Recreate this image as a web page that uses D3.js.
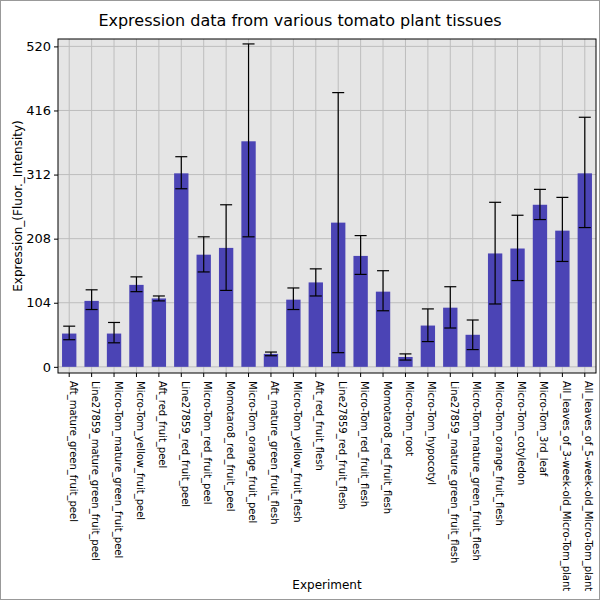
<!DOCTYPE html><html><head><script src="https://d3js.org/d3.v7.min.js"></script>
<style>body{margin:0;background:#fff}text{font-family:"DejaVu Sans",sans-serif}</style></head><body><script>
const categories=["Aft_mature_green_fruit_peel","Line27859_mature_green_fruit_peel","Micro-Tom_mature_green_fruit_peel","Micro-Tom_yellow_fruit_peel","Aft_red_fruit_peel","Line27859_red_fruit_peel","Micro-Tom_red_fruit_peel","Momotaro8_red_fruit_peel","Micro-Tom_orange_fruit_peel","Aft_mature_green_fruit_flesh","Micro-Tom_yellow_fruit_flesh","Aft_red_fruit_flesh","Line27859_red_fruit_flesh","Micro-Tom_red_fruit_flesh","Momotaro8_red_fruit_flesh","Micro-Tom_root","Micro-Tom_hypocotyl","Line27859_mature_green_fruit_flesh","Micro-Tom_mature_green_fruit_flesh","Micro-Tom_orange_fruit_flesh","Micro-Tom_cotyledon","Micro-Tom_3rd_leaf","All_leaves_of_3-week-old_Micro-Tom_plant","All_leaves_of_5-week-old_Micro-Tom_plant"];
const values=[54,107,54,133,111,314,182,193,366,21,109,137,234,180,122,16,67,96,52,184,192,263,221,314];
const errHigh=[66,125,72,146,115,341,211,263,524,24,128,159,445,213,156,21,94,130,76,267,246,288,275,405];
const errLow=[44,93,39,122,107,289,154,124,211,18,93,115,23,150,91,11,41,63,28,102,140,239,171,226];
const yTicks=[0,104,208,312,416,520];
const W=600,H=600,L=58,R=596,T=39,B=373;
const svg=d3.select("body").append("svg").attr("width",W).attr("height",H);
svg.append("rect").attr("x",0.5).attr("y",0.5).attr("width",W-1).attr("height",H-1).attr("fill","#fff").attr("stroke","#999");
const x=d3.scaleBand().domain(categories).range([L,R]).paddingInner(0.36).paddingOuter(0.18);
const y=d3.scaleLinear().domain([-10,532]).range([B,T]);
svg.append("rect").attr("x",L).attr("y",T).attr("width",R-L).attr("height",B-T).attr("fill","#e5e5e5");
svg.append("g").selectAll("line").data(yTicks).join("line").attr("x1",L).attr("x2",R).attr("y1",d=>y(d)).attr("y2",d=>y(d)).attr("stroke","#bdbdbd");
svg.append("g").selectAll("line").data(categories).join("line").attr("y1",T).attr("y2",B).attr("x1",d=>x(d)+x.bandwidth()/2).attr("x2",d=>x(d)+x.bandwidth()/2).attr("stroke","#bdbdbd");
svg.append("g").selectAll("rect").data(categories).join("rect").attr("x",d=>x(d)).attr("width",x.bandwidth()).attr("y",(d,i)=>y(values[i])).attr("height",(d,i)=>y(0)-y(values[i])).attr("fill","#4b44b5");
const eb=svg.append("g").attr("stroke","#000").attr("stroke-width",1.2);
categories.forEach((c,i)=>{const cx=x(c)+x.bandwidth()/2;
eb.append("line").attr("x1",cx).attr("x2",cx).attr("y1",y(errLow[i])).attr("y2",y(errHigh[i]));
[errLow[i],errHigh[i]].forEach(v=>eb.append("line").attr("x1",cx-6).attr("x2",cx+6).attr("y1",y(v)).attr("y2",y(v)));});
svg.append("g").attr("transform",`translate(${L},0)`).call(d3.axisLeft(y).tickValues(yTicks).tickSize(4)).call(g=>g.select(".domain").remove()).selectAll("text").attr("font-size",13);
svg.append("g").attr("transform",`translate(0,${B})`).call(d3.axisBottom(x).tickSize(4)).call(g=>g.select(".domain").remove())
 .selectAll("text").attr("font-size",10).attr("transform","rotate(90)").attr("text-anchor","start").attr("x",8).attr("y",-4).attr("dy","0.35em");
svg.append("rect").attr("x",L).attr("y",T).attr("width",R-L).attr("height",B-T).attr("fill","none").attr("stroke","#000");
svg.append("text").attr("x",300).attr("y",26).attr("text-anchor","middle").attr("font-size",16).text("Expression data from various tomato plant tissues");
svg.append("text").attr("x",327).attr("y",589).attr("text-anchor","middle").attr("font-size",12).text("Experiment");
svg.append("text").attr("transform","translate(22,206) rotate(-90)").attr("text-anchor","middle").attr("font-size",12).text("Expression_(Fluor._Intensity)");
</script></body></html>
